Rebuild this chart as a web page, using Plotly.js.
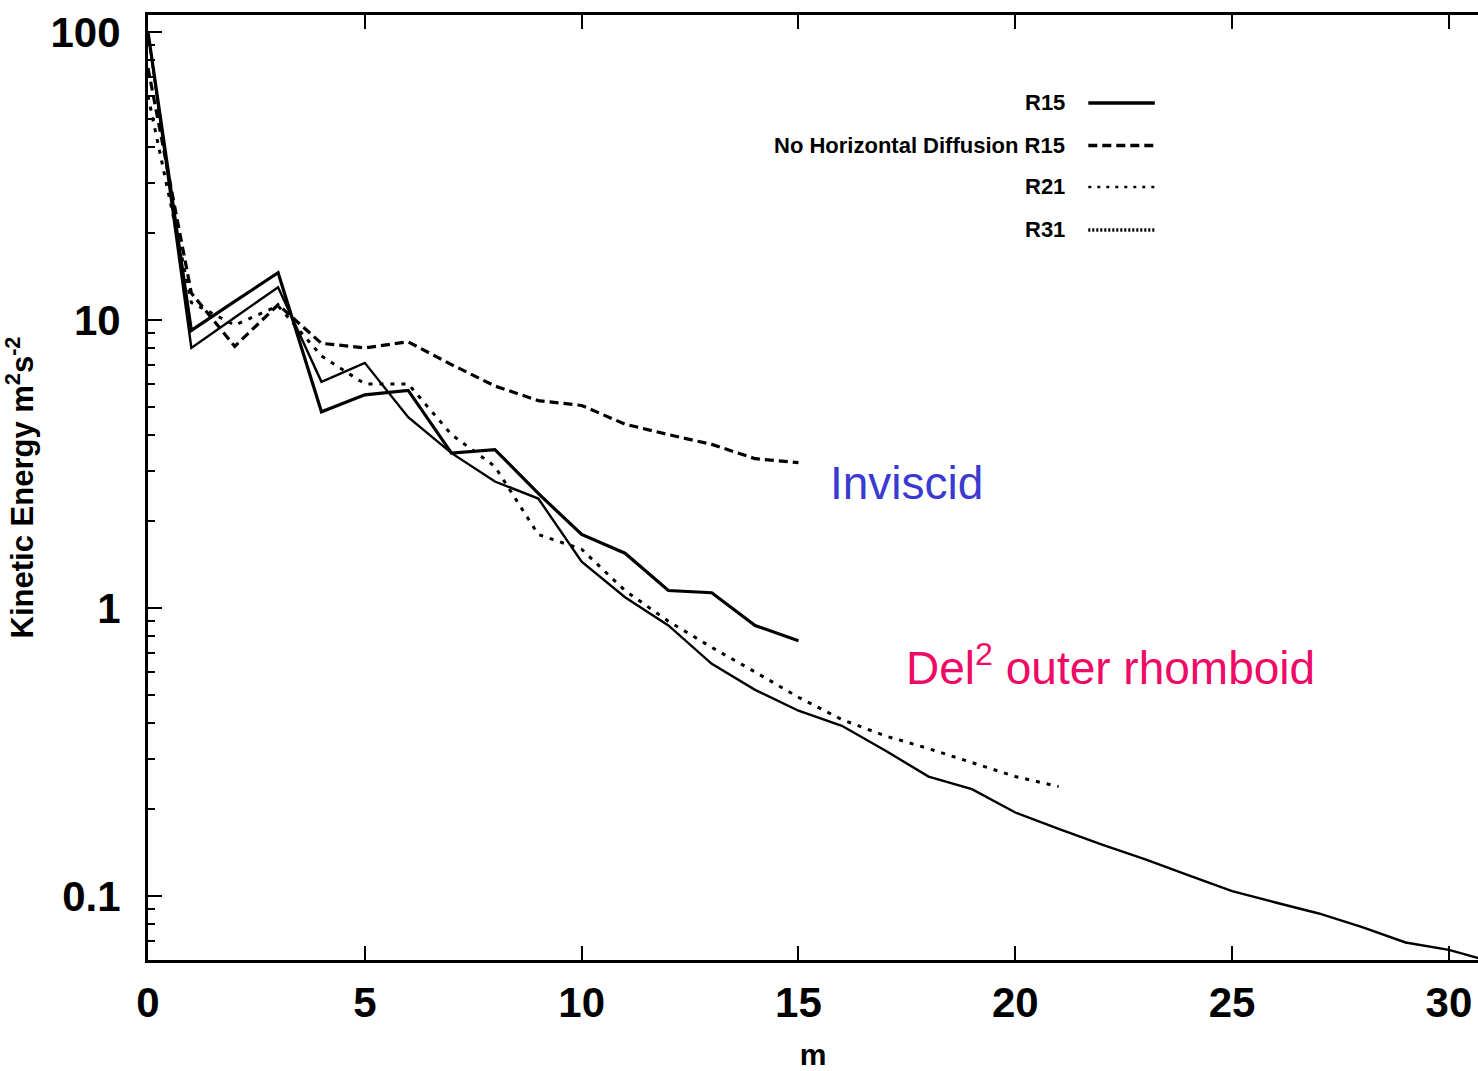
<!DOCTYPE html>
<html><head><meta charset="utf-8">
<script src="https://cdn.plot.ly/plotly-3.0.1.min.js"></script>
<style>html,body{margin:0;padding:0;background:#fff;overflow:hidden}#chart{width:1478px;height:1071px}</style>
</head><body><div id="chart"></div>
<script>
// wavenumber m
const mR15 = [0,1,2,3,4,5,6,7,8,9,10,11,12,13,14,15];
const mR21 = [0,1,2,3,4,5,6,7,8,9,10,11,12,13,14,15,16,17,18,19,20,21];
const mR31 = [0,1,2,3,4,5,6,7,8,9,10,11,12,13,14,15,16,17,18,19,20,21,22,23,24,25,26,27,28,29,30,31];

// kinetic energy (m^2 s^-2)
const keR15 = [100, 9.2, 11.6, 14.6, 4.8, 5.5, 5.7, 3.45, 3.55, 2.5, 1.8, 1.55, 1.15, 1.13, 0.87, 0.77];
const keNoHD = [75, 12.4, 8.1, 11.3, 8.3, 8.0, 8.4, 7.0, 5.9, 5.25, 5.05, 4.35, 4.0, 3.7, 3.3, 3.2];
const keR21 = [60, 11.5, 9.6, 11.2, 7.5, 6.0, 6.0, 4.0, 3.1, 1.8, 1.6, 1.15, 0.9, 0.73, 0.6, 0.49, 0.41, 0.36, 0.325, 0.29, 0.26, 0.24];
const keR31 = [100, 8.0, 10.2, 13.0, 6.1, 7.1, 4.6, 3.45, 2.75, 2.4, 1.45, 1.09, 0.87, 0.64, 0.52, 0.44, 0.39, 0.32, 0.26, 0.235, 0.195, 0.171, 0.151, 0.134, 0.118, 0.104, 0.095, 0.087, 0.078, 0.069, 0.065, 0.059];

const seriesNames = ['R15', 'No Horizontal Diffusion R15', 'R21', 'R31'];
const tickLabelsX = ['0','5','10','15','20','25','30'];

const styles = [
  {width: 3.2, dash: 'solid'},
  {width: 3.2, dash: '9px,5px'},
  {width: 3, dash: '4px,7px'},
  {width: 2.4, dash: 'solid'}
];
const legendStyles = [
  {width: 3.5, dash: 'solid'},
  {width: 3.5, dash: '9px,5px'},
  {width: 2.5, dash: '3px,6px'},
  {width: 3.5, dash: '2px,2px'}
];

const xs = [mR15, mR15, mR21, mR31];
const ys = [keR15, keNoHD, keR21, keR31];

const traces = xs.map((x, i) => ({
  x: x, y: ys[i], name: seriesNames[i], type: 'scatter', mode: 'lines',
  line: {color: '#000', width: styles[i].width, dash: styles[i].dash},
  showlegend: false, hoverinfo: 'x+y+name'
}));

// manual legend (text left of sample line)
const legY = [0.907, 0.862, 0.818, 0.7725];
const annotations = seriesNames.map((n, i) => ({
  xref: 'paper', yref: 'paper', x: 0.691, y: legY[i], xanchor: 'right', yanchor: 'middle',
  text: '<b>' + n + '</b>', showarrow: false,
  font: {family: 'Liberation Sans, Arial, sans-serif', size: 22, color: '#000'}
}));
const shapes = seriesNames.map((n, i) => ({
  type: 'line', xref: 'paper', yref: 'paper', x0: 0.707, x1: 0.757, y0: legY[i], y1: legY[i],
  line: {color: '#000', width: legendStyles[i].width, dash: legendStyles[i].dash}
}));

annotations.push({
  xref: 'x', yref: 'y', x: 15.68, y: Math.log10(2.72), xanchor: 'left', yanchor: 'middle',
  text: 'Inviscid', showarrow: false,
  font: {family: 'Liberation Sans, Arial, sans-serif', size: 46, color: '#3A3AD0'}
});
annotations.push({
  xref: 'x', yref: 'y', x: 17.43, y: Math.log10(0.634), xanchor: 'left', yanchor: 'middle',
  text: 'Del<sup>2</sup> outer rhomboid', showarrow: false,
  font: {family: 'Liberation Sans, Arial, sans-serif', size: 46, color: '#EE0A66'}
});

const layout = {
  width: 1478, height: 1071,
  margin: {l: 148, r: 0, t: 15, b: 111},
  paper_bgcolor: '#fff', plot_bgcolor: '#fff',
  font: {family: 'Liberation Sans, Arial, sans-serif', color: '#000'},
  xaxis: {
    range: [0, 30.67], tickmode: 'array', tickvals: [0,5,10,15,20,25,30], ticktext: tickLabelsX,
    ticks: 'inside', ticklen: 14, tickwidth: 2, tickcolor: '#000',
    showline: true, linewidth: 3, linecolor: '#000', mirror: 'ticks',
    showgrid: false, zeroline: false,
    tickfont: {size: 42, weight: 'bold', color: '#000'}, ticklabelstandoff: 4,
    title: {text: 'm', font: {size: 30, weight: 'bold'}, standoff: 22}
  },
  yaxis: {
    type: 'log', range: [-1.222, 2.059], tickmode: 'linear', tick0: 0, dtick: 1,
    ticks: 'inside', ticklen: 14, tickwidth: 2, tickcolor: '#000',
    minor: {ticks: 'inside', ticklen: 7, tickwidth: 2, tickcolor: '#000', dtick: 'D1'},
    showline: true, linewidth: 3, linecolor: '#000', mirror: false,
    showgrid: false, zeroline: false,
    tickfont: {size: 42, weight: 'bold', color: '#000'}, ticklabelstandoff: 16,
    title: {text: 'Kinetic Energy m<sup>2</sup>s<sup>-2</sup>', font: {size: 31, weight: 'bold'}, standoff: 12}
  },
  annotations: annotations,
  shapes: shapes
};

Plotly.newPlot('chart', traces, layout, {displayModeBar: false, staticPlot: true});
</script></body></html>
